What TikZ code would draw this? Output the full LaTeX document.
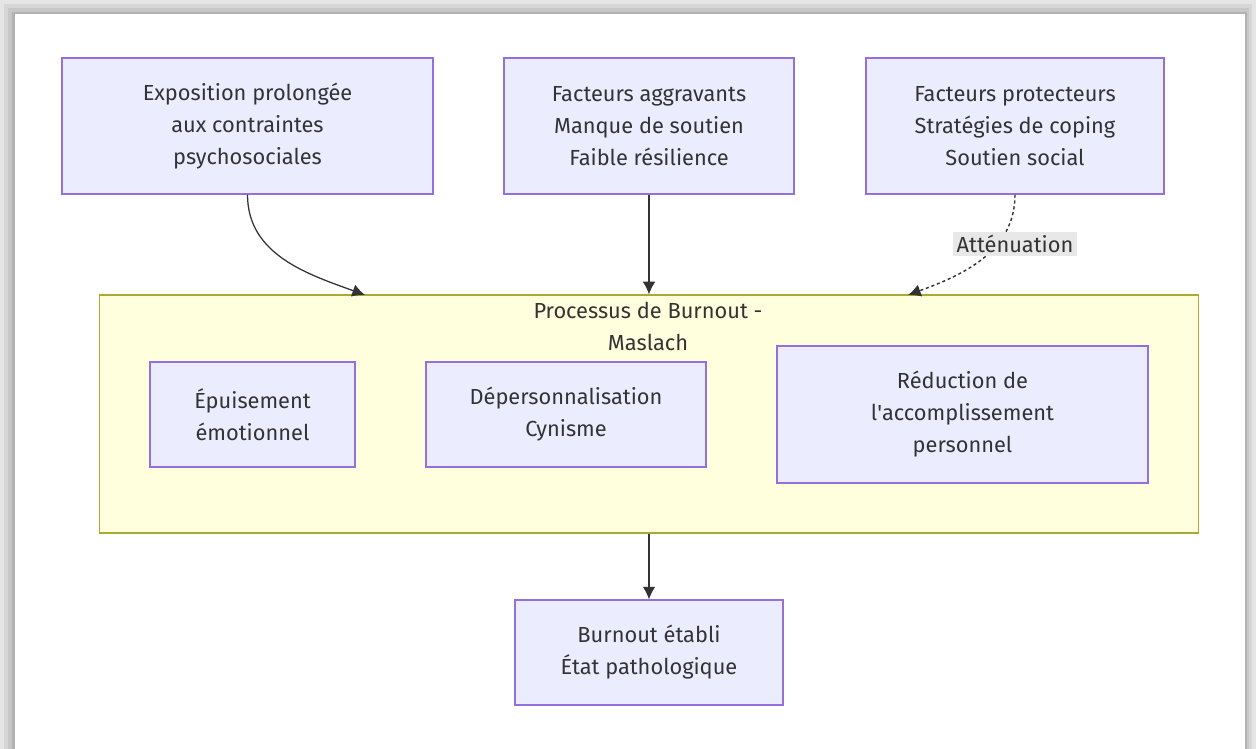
\documentclass[tikz,border=0pt]{standalone}
\usepackage{fontspec}
\setmainfont{Fira Sans}
\usetikzlibrary{arrows.meta}
\definecolor{boxfill}{HTML}{ECECFF}
\definecolor{boxline}{HTML}{9370DB}
\definecolor{clusterfill}{HTML}{FFFFDE}
\definecolor{clusterline}{HTML}{AAAA33}
\definecolor{ink}{HTML}{333333}
\tikzset{>={Latex[length=9pt,width=9pt]}}
\tikzset{
  stagebox/.style={draw=boxline, fill=boxfill, line width=0.8pt, align=center,
    text=ink, font=\fontsize{15.5}{22.8}\selectfont, inner sep=0pt},
  flow/.style={draw=ink, line width=0.9pt, ->},
}

\begin{document}
\begin{tikzpicture}[x=0.025cm, y=0.025cm]
    \useasboundingbox (0, 0) rectangle (1256, 749);
    % frame
    \fill[black!10](0, 0) rectangle (1256, 749);
    \fill[black!16](4, 0) rectangle (1252, 745);
    \fill[black!22](8, 0) rectangle (1249, 741);
    \fill[black!30](12, 0) rectangle (1247, 737);
    \fill[white](15, 0) rectangle (1245, 735);

    \node[stagebox, minimum width=9.275cm, minimum height=3.4cm](expo)at(247.5, 623){Exposition prolongée\\aux contraintes\\psychosociales};
    \node[stagebox, minimum width=7.25cm, minimum height=3.4cm](aggr)at(649, 623){Facteurs aggravants\\Manque de soutien\\Faible résilience};
    \node[stagebox, minimum width=7.45cm, minimum height=3.4cm](prot)at(1015, 623){Facteurs protecteurs\\Stratégies de coping\\Soutien social};

    \node[draw=clusterline, fill=clusterfill, line width=0.8pt, minimum width=27.45cm, minimum height=5.95cm, inner sep=0pt](maslach)at(649, 335){};
    \node[text=ink, align=center, font=\fontsize{15.5}{22.8}\selectfont](title)at(648, 423){Processus de Burnout -\\Maslach};

    \node[stagebox, minimum width=5.125cm, minimum height=2.625cm](epuis)at(252.5, 334.5){Épuisement\\émotionnel};
    \node[stagebox, minimum width=7cm, minimum height=2.625cm](deper)at(566, 334.5){Dépersonnalisation\\Cynisme};
    \node[stagebox, minimum width=9.275cm, minimum height=3.425cm](reduc)at(962.5, 334.5){Réduction de\\l\textquotesingle accomplissement\\personnel};

    \node[stagebox, minimum width=6.7cm, minimum height=2.625cm](etabli)at(649, 96.5){Burnout établi\\État pathologique};

    \coordinate(inA)at(365, 454);
    \coordinate(inC)at(908, 454);
    \draw[flow](expo.south)to[out=-90, in=160](inA);
    \draw[flow](aggr.south)--(aggr.south |- maslach.north);
    \draw[draw=ink, line width=1pt, dash pattern=on 2.2pt off 2pt, ->](prot.south)to[out=-90, in=20](inC);
    \node[fill=black!9, text=ink, inner sep=2.5pt, font=\fontsize{15.5}{17}\selectfont](att)at(1015, 505){Atténuation};
    \draw[flow](maslach.south)--(etabli.north);
\end{tikzpicture}
\end{document}
